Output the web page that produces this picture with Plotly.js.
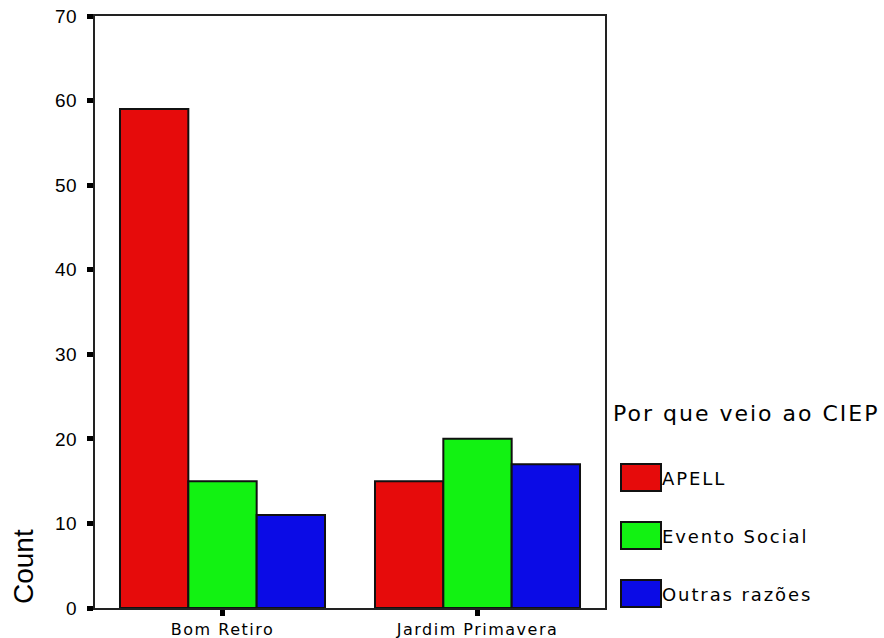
<!DOCTYPE html>
<html>
<head>
<meta charset="utf-8">
<script src="https://cdn.plot.ly/plotly-3.0.1.min.js"></script>
<style>
html,body{margin:0;padding:0;background:#fff;}
#chart{width:884px;height:638px;}
#chart .xtick text{letter-spacing:1.5px;}
#chart .ytick text{letter-spacing:0.5px;}
text.annotation-text[style*="font-size: 18px"]{letter-spacing:1.9px;}
text.annotation-text[style*="font-size: 22px"]{letter-spacing:2px;}
</style>
</head>
<body>
<div id="chart"></div>
<script>
const categories = ['Bom Retiro', 'Jardim Primavera'];
const seriesNames = ['APELL', 'Evento Social', 'Outras razões'];
const apell = [59, 15];
const eventoSocial = [15, 20];
const outrasRazoes = [11, 17];
const seriesColors = ['#e60b0b', '#12f212', '#0b0be6'];
const yTickVals = [0, 10, 20, 30, 40, 50, 60, 70];
const legendTitle = 'Por que veio ao CIEP';
const yTitle = 'Count';

const seriesValues = [apell, eventoSocial, outrasRazoes];

// plot-area geometry in pixels
const W = 884, H = 638;
const L = 95, R = 605, T = 16, B = 608;
const px = x => (x - L) / (R - L);
const py = y => (B - y) / (B - T);

const traces = seriesNames.map((name, i) => ({
  type: 'bar',
  name: name,
  x: categories,
  y: seriesValues[i],
  marker: { color: seriesColors[i], line: { color: '#111', width: 2 } },
  showlegend: false,
  hoverinfo: 'x+y+name'
}));

const shapes = [];
const annotations = [];
seriesNames.forEach((name, i) => {
  const top = 464 + i * 58;
  shapes.push({
    type: 'rect', xref: 'paper', yref: 'paper',
    x0: px(621), x1: px(661), y0: py(top + 27), y1: py(top),
    fillcolor: seriesColors[i], line: { color: '#111', width: 2 }
  });
  annotations.push({
    xref: 'paper', yref: 'paper', x: px(660), y: py(top + 14),
    xanchor: 'left', yanchor: 'middle', showarrow: false, text: name,
    font: { family: 'DejaVu Sans, sans-serif', size: 18, color: '#000' }
  });
});
annotations.push({
  xref: 'paper', yref: 'paper', x: px(611), y: py(413),
  xanchor: 'left', yanchor: 'middle', showarrow: false, text: legendTitle,
  font: { family: 'DejaVu Sans, sans-serif', size: 22, color: '#000' }
});
annotations.push({
  xref: 'paper', yref: 'paper', x: px(23), y: py(567),
  xanchor: 'center', yanchor: 'middle', showarrow: false, text: yTitle,
  textangle: -90,
  font: { family: 'Liberation Sans, Arial, sans-serif', size: 28, color: '#000' }
});

const layout = {
  width: W, height: H,
  margin: { l: L, r: W - R, t: T, b: H - B, pad: 0 },
  paper_bgcolor: '#fff', plot_bgcolor: '#fff',
  barmode: 'group', bargap: 0.196, bargroupgap: 0,
  xaxis: {
    type: 'category', showgrid: false, zeroline: false,
    showline: true, mirror: true, linecolor: '#222', linewidth: 2,
    ticks: 'outside', ticklen: 6, tickwidth: 5, tickcolor: '#000',
    tickfont: { family: 'DejaVu Sans, sans-serif', size: 16, color: '#000' }
  },
  yaxis: {
    range: [0, 70], tickvals: yTickVals, showgrid: false, zeroline: false,
    showline: true, mirror: true, linecolor: '#222', linewidth: 2,
    ticks: 'outside', ticklen: 6, tickwidth: 5, tickcolor: '#000',
    ticklabelstandoff: 6,
    tickfont: { family: 'Liberation Sans, Arial, sans-serif', size: 19, color: '#000' }
  },
  shapes: shapes,
  annotations: annotations,
  font: { family: 'Liberation Sans, Arial, sans-serif' }
};

Plotly.newPlot('chart', traces, layout, { staticPlot: true, displayModeBar: false });
</script>
</body>
</html>
